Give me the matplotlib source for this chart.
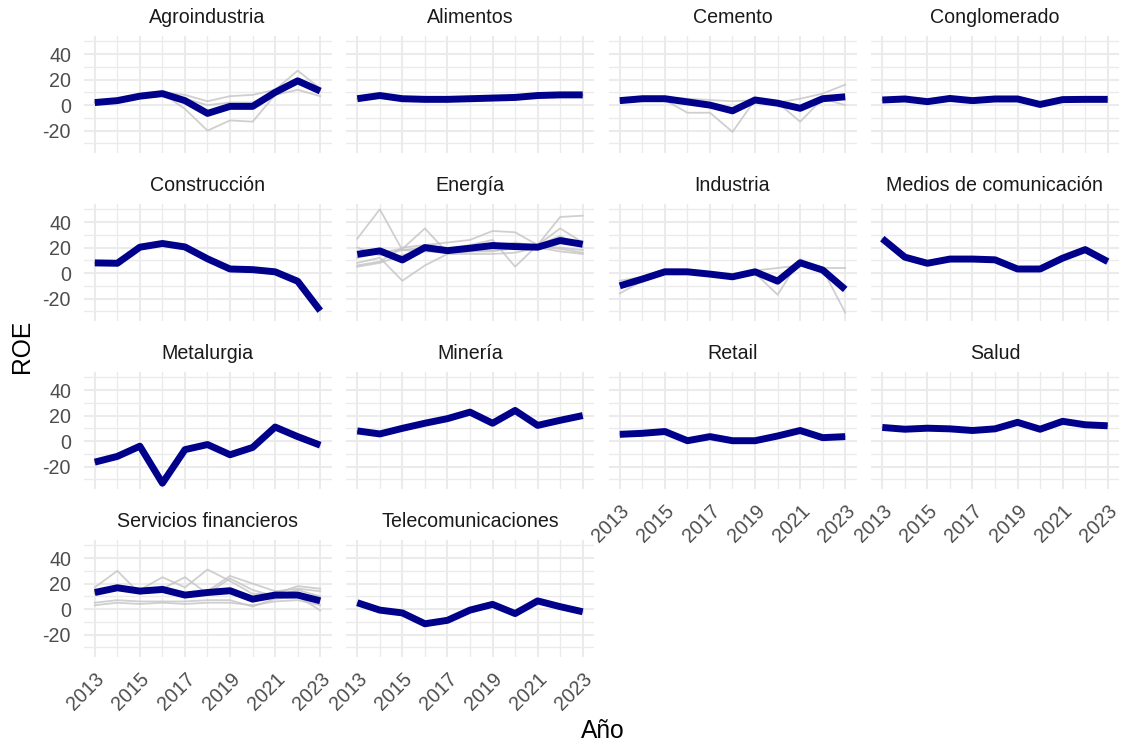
import matplotlib
matplotlib.use("Agg")
import matplotlib.pyplot as plt
import numpy as np

plt.rcParams['font.family'] = ['Liberation Sans', 'DejaVu Sans']

years = list(range(2013, 2024))
x_ticks = [2013, 2015, 2017, 2019, 2021, 2023]
y_ticks = [-20, 0, 20, 40]

sectores = ["Agroindustria", "Alimentos", "Cemento", "Conglomerado",
            "Construcción", "Energía", "Industria", "Medios de comunicación",
            "Metalurgia", "Minería", "Retail", "Salud",
            "Servicios financieros", "Telecomunicaciones"]

# Sector average ROE (blue line)
prom_agroindustria = [2, 3.5, 7, 9, 3.5, -6.5, -1, -1, 10, 19, 11]
prom_alimentos = [5, 7.5, 5, 4.5, 4.5, 5, 5.5, 6, 7.5, 8, 8]
prom_cemento = [3.5, 5, 5, 2.5, 0, -4.5, 4, 1.5, -2.5, 5, 6.5]
prom_conglomerado = [4, 4.8, 2.7, 5.2, 3.5, 4.8, 4.8, 0.5, 4.3, 4.5, 4.5]
prom_construccion = [8, 7.7, 20.3, 23.2, 20.5, 11.2, 3.2, 2.7, 1, -6.4, -29.5]
prom_energia = [14.7, 17.4, 10.3, 20, 17.6, 19.5, 21.6, 20.8, 20.3, 25.5, 22.6]
prom_industria = [-10, -4.7, 1, 1, -0.8, -2.9, 1, -6.3, 8.1, 2.4, -12.8]
prom_medios = [27, 12.5, 7.7, 11, 11, 10.4, 3.2, 3.2, 11.7, 18.4, 9]
prom_metalurgia = [-16.5, -12, -4, -33, -6.7, -2.7, -10.7, -5, 11, 3.5, -3.2]
prom_mineria = [8, 5.6, 10, 14, 17.6, 22.7, 14, 24, 12.3, 16.3, 20]
prom_retail = [5.3, 6.1, 7.5, 0.3, 3.5, 0.3, 0.3, 4, 8.3, 2.7, 3.5]
prom_salud = [10.7, 9.3, 10.1, 9.6, 8.3, 9.6, 14.7, 9.3, 15.5, 12.8, 12]
prom_servicios = [13, 16.7, 14.1, 15.4, 11, 13, 14.4, 7.8, 11, 11, 6.5]
prom_telecom = [5, -0.8, -3, -11.5, -8.8, -0.8, 3.7, -3.5, 6.4, 1.9, -2.1]

# Individual companies (grey lines)
emp_agroindustria = [
    [2, 4, 7, 9, -3, -20, -12, -13, 8, 12, 7],
    [2, 3, 8, 10, 8, 3, 7, 8, 12, 27, 13],
    [2, 3, 7, 9, 5, 0, 2, 2, 10, 20, 11],
]
emp_cemento = [
    [3, 5, 4, -6, -6, -21, 4, 2, -13, 5, 0],
    [3, 5, 6, 5, 4, 3, 4, 2, 5, 9, 16],
]
emp_energia = [
    [27, 50, 18, 17, 16, 17, 18, 19, 21, 19, 16],
    [8, 12, -6, 6, 15, 15, 15, 16, 20, 17, 15],
    [12, 16, 19, 35, 16, 17, 17, 20, 22, 35, 24],
    [6, 9, 20, 22, 24, 26, 33, 32, 22, 44, 45],
    [5, 8, 14, 18, 19, 22, 26, 5, 22, 29, 20],
    [20, 14, 18, 20, 17, 18, 20, 24, 21, 20, 18],
]
emp_industria = [
    [-16, -6, 2, 1, -1, -4, 0, -17, 11, 3, -31],
    [-6, -3, 3, 2, 0, -2, 2, 4, 6, 4, 4],
]
emp_servicios = [
    [17, 30, 12, 18, 12, 14, 26, 20, 14, 16, 14],
    [14, 17, 15, 25, 17, 31, 22, 12, 12, 18, 16],
    [12, 15, 14, 16, 25, 12, 24, 15, 10, 15, 10],
    [5, 7, 6, 6, 6, 7, 7, 2, 8, 10, -1],
    [3, 5, 4, 5, 4, 5, 5, 3, 6, 7, 3],
    [13, 17, 14, 14, 11, 12, 13, 8, 12, 11, 8],
]

promedios = [prom_agroindustria, prom_alimentos, prom_cemento, prom_conglomerado,
             prom_construccion, prom_energia, prom_industria, prom_medios,
             prom_metalurgia, prom_mineria, prom_retail, prom_salud,
             prom_servicios, prom_telecom]
empresas = {
    "Agroindustria": emp_agroindustria,
    "Cemento": emp_cemento,
    "Energía": emp_energia,
    "Industria": emp_industria,
    "Servicios financieros": emp_servicios,
}

# y range with 5% expansion
all_vals = [v for p in promedios for v in p] + \
    [v for lst in empresas.values() for s in lst for v in s]
ymin, ymax = min(all_vals), max(all_vals)
pad = 0.05 * (ymax - ymin)
ylim = (ymin - pad, ymax + pad)
xlim = (2013 - 0.5, 2023 + 0.5)

W, H = 1128, 744
fig = plt.figure(figsize=(W / 100, H / 100), dpi=100)

col_left = [83.5, 346, 608.5, 871]
pw = 248
row_top = [36, 204, 372, 540]
ph = 116.5

grid_col = "#EBEBEB"
blue = "#00008B"
ncols = 4

for i, (sec, prom) in enumerate(zip(sectores, promedios)):
    r, c = divmod(i, ncols)
    ax = fig.add_axes([col_left[c] / W, 1 - (row_top[r] + ph) / H, pw / W, ph / H])
    ax.set_xlim(*xlim)
    ax.set_ylim(*ylim)
    for s in ax.spines.values():
        s.set_visible(False)
    # grid
    for yv in [-30, -10, 10, 30, 50]:
        ax.axhline(yv, color=grid_col, lw=0.95, zorder=0)
    for yv in y_ticks:
        ax.axhline(yv, color=grid_col, lw=1.45, zorder=0)
    for xv in years:
        ax.axvline(xv, color=grid_col, lw=1.45 if xv in x_ticks else 0.95, zorder=0)

    for serie in empresas.get(sec, [prom]):
        ax.plot(years, serie, color="#C4C4C4", lw=1.3, alpha=0.8, zorder=2,
                solid_joinstyle='round')
    ax.plot(years, prom, color=blue, lw=5.0, zorder=3,
            solid_joinstyle='round', solid_capstyle='butt')

    ax.set_xticks(x_ticks)
    ax.set_yticks(y_ticks)
    ax.tick_params(length=0, labelsize=14.1, labelcolor="#4D4D4D", pad=9)
    bottom_in_col = (r == 3) or (r == 2 and c >= 2)
    if bottom_in_col:
        ax.set_xticklabels([str(y) for y in x_ticks], rotation=45,
                           ha='right', va='top', rotation_mode='anchor')
    else:
        ax.set_xticklabels([])
    if c == 0:
        ax.set_yticklabels([str(y) for y in y_ticks])
    else:
        ax.set_yticklabels([])

    ax.annotate(sec, xy=(0.5, 1.0), xycoords='axes fraction',
                xytext=(0, 13.5), textcoords='offset points',
                ha='center', va='center', fontsize=14.1, color="#1A1A1A")

fig.text(22 / W, 1 - 346 / H, "ROE", rotation=90, ha='center', va='center',
         fontsize=17.7, color='black')
fig.text(603 / W, 1 - 731 / H, "Año", ha='center', va='center',
         fontsize=17.7, color='black')

fig.savefig("out.png", dpi=100, facecolor='white')
